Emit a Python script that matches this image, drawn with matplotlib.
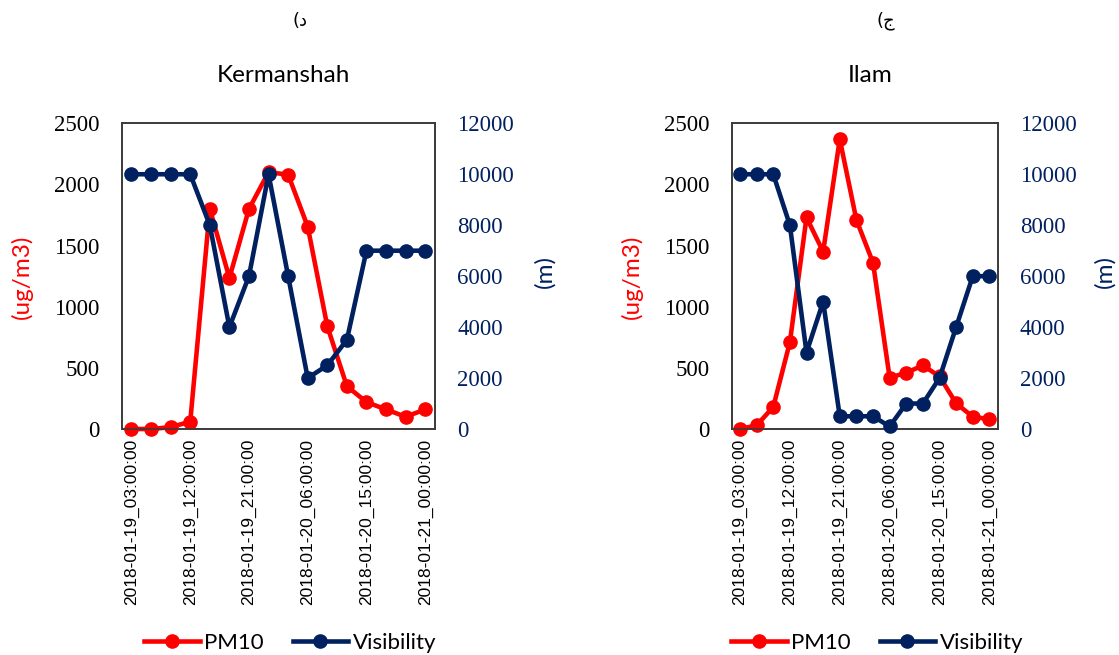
import matplotlib
matplotlib.use("Agg")
import matplotlib.pyplot as plt
from matplotlib.lines import Line2D

times = ["2018-01-19_03:00:00", "2018-01-19_06:00:00", "2018-01-19_09:00:00",
         "2018-01-19_12:00:00", "2018-01-19_15:00:00", "2018-01-19_18:00:00",
         "2018-01-19_21:00:00", "2018-01-20_00:00:00", "2018-01-20_03:00:00",
         "2018-01-20_06:00:00", "2018-01-20_09:00:00", "2018-01-20_12:00:00",
         "2018-01-20_15:00:00", "2018-01-20_18:00:00", "2018-01-20_21:00:00",
         "2018-01-21_00:00:00"]

kerm_pm10 = [0, 0, 15, 60, 1800, 1235, 1800, 2100, 2080, 1655, 840, 350, 220, 160, 100, 160]
kerm_vis = [10000, 10000, 10000, 10000, 8000, 4000, 6000, 10000, 6000, 2000, 2500, 3500,
            7000, 7000, 7000, 7000]

ilam_pm10 = [0, 30, 180, 710, 1730, 1450, 2370, 1710, 1360, 420, 460, 520, 430, 210, 100, 80]
ilam_vis = [10000, 10000, 10000, 8000, 3000, 5000, 500, 500, 500, 100, 1000, 1000, 2000,
            4000, 6000, 6000]

pm_ticks = [0, 500, 1000, 1500, 2000, 2500]
vis_ticks = [0, 2000, 4000, 6000, 8000, 10000, 12000]

titles = ["Kermanshah", "Ilam"]
letters = ["(د", "(ج"]

RED = "#FF0000"
NAVY = "#002060"
FRAME = "#3a3a3a"
W, H = 1119, 655

fig = plt.figure(figsize=(W / 100, H / 100), dpi=100)


def fx(px):
    return px / W


def fy(py):
    return 1 - py / H


panels = [
    dict(x0=121.7, x1=435.0, pm=kerm_pm10, vis=kerm_vis, title=titles[0], letter=letters[0],
         title_x=283, letter_x=300, ylab_x=22, mlab_x=545, leg_x=290),
    dict(x0=731.7, x1=997.7, pm=ilam_pm10, vis=ilam_vis, title=titles[1], letter=letters[1],
         title_x=870, letter_x=886, ylab_x=632, mlab_x=1105, leg_x=877),
]

y_top, y_bot = 123.3, 429.0

for p in panels:
    ax = fig.add_axes([fx(p["x0"]), fy(y_bot), fx(p["x1"] - p["x0"]), (y_bot - y_top) / H])
    ax2 = ax.twinx()
    xs = list(range(len(times)))
    ax.plot(xs, p["pm"], color=RED, lw=3.3, marker="o", ms=9.5, clip_on=False, zorder=3)
    ax2.plot(xs, p["vis"], color=NAVY, lw=3.3, marker="o", ms=9.5, clip_on=False, zorder=3)
    ax.set_xlim(-0.5, len(times) - 0.5)
    ax.set_ylim(0, 2500)
    ax2.set_ylim(0, 12000)
    ax.set_yticks(pm_ticks)
    ax.set_yticklabels([str(v) for v in pm_ticks], family="Liberation Serif", fontsize=16.5,
                       color="black")
    ax2.set_yticks(vis_ticks)
    ax2.set_yticklabels([str(v) for v in vis_ticks], family="Liberation Serif", fontsize=16.5,
                        color=NAVY)
    ax.set_xticks(xs[::3])
    ax.set_xticklabels([times[i] for i in xs[::3]], rotation=90, family="Liberation Sans",
                       fontsize=12.5, va="top")
    ax.tick_params(axis="both", length=0)
    ax.tick_params(axis="y", pad=16)
    ax.tick_params(axis="x", pad=7)
    ax2.tick_params(axis="y", length=0, pad=16)
    for a in (ax, ax2):
        for s in a.spines.values():
            s.set_color(FRAME)
            s.set_linewidth(1.2)

    fig.text(fx(p["title_x"]), fy(75), p["title"], family="Lato", fontsize=17.5,
             ha="center", va="center")
    fig.text(fx(p["letter_x"]), fy(21), p["letter"], family="DejaVu Sans", fontsize=13,
             ha="center", va="center")
    fig.text(fx(p["ylab_x"]), fy(277), "(ug/m3)", family="Lato", fontsize=17.5, color=RED,
             rotation=90, ha="center", va="center")
    fig.text(fx(p["mlab_x"]), fy(272), "(m)", family="Lato", fontsize=17.5, color=NAVY,
             rotation=90, ha="center", va="center")

    handles = [Line2D([], [], color=RED, lw=3.3, marker="o", ms=9.5),
               Line2D([], [], color=NAVY, lw=3.3, marker="o", ms=9.5)]
    fig.legend(handles, ["PM10", "Visibility"], loc="center", ncol=2, frameon=False,
               bbox_to_anchor=(fx(p["leg_x"]), fy(643)),
               prop={"family": "Lato", "size": 16}, handlelength=2.5, handletextpad=0.2,
               columnspacing=1.3, borderpad=0, borderaxespad=0)

fig.savefig("out.png", dpi=100)
